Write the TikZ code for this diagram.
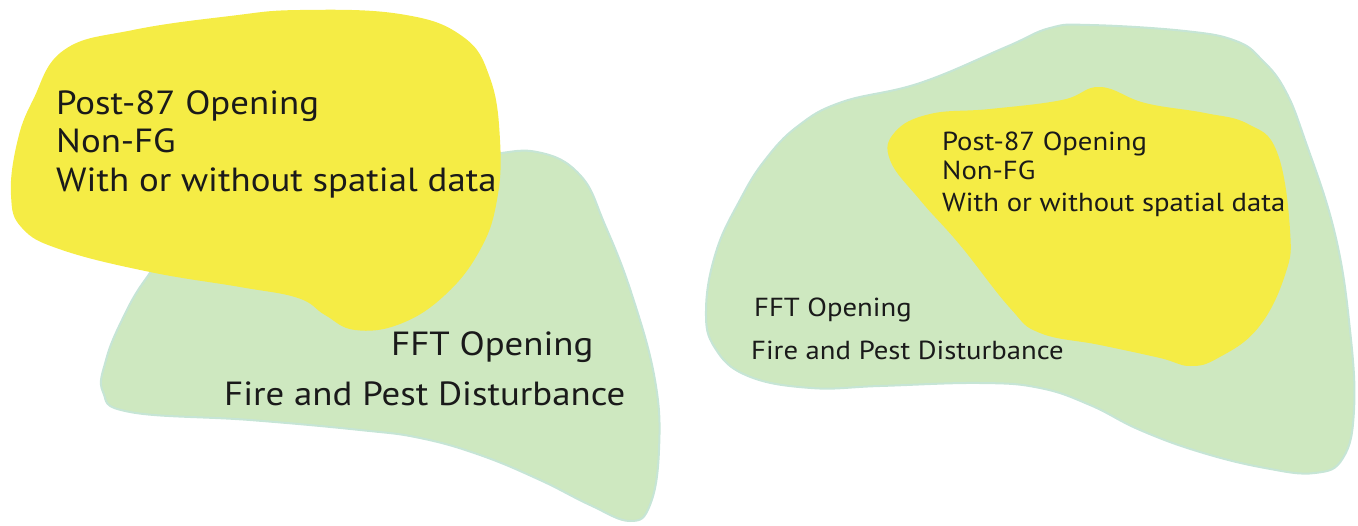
\documentclass[tikz,border=0pt]{standalone}
\usepackage{fontspec}
\setmainfont[FakeStretch=1.1]{PT Sans}
\definecolor{blobyellow}{HTML}{F5EC45}
\definecolor{blobgreen}{HTML}{CEE8C0}
\definecolor{blobedge}{HTML}{C6E5D6}
\definecolor{txt}{HTML}{1A1A1A}
\tikzset{
  greenblob/.style={fill=blobgreen, draw=blobedge, line width=2pt},
  yellowblob/.style={fill=blobyellow, draw=none},
  bigtxt/.style={anchor=base west, inner sep=0pt, text=txt, font=\fontsize{33.5}{40}\selectfont},
  smalltxt/.style={anchor=base west, inner sep=0pt, text=txt, font=\fontsize{26.1}{31}\selectfont},
}
\begin{document}
\begin{tikzpicture}[x=1pt,y=-1pt]
\useasboundingbox (0,0) rectangle (1358,525);
% ---- left group ----
\draw[greenblob] plot[smooth cycle, tension=0.7] coordinates {
 (480,155) (537,152) (580,175) (605,225) (632,295) (655,380) (659,450) (650,505) (630,521)
 (590,505) (540,480) (480,455) (420,438) (360,430) (250,420) (130,412) (103,392) (106,360)
 (122,320) (145,280) (180,240) (260,190) (380,160)};
\fill[yellowblob] plot[smooth cycle, tension=0.7] coordinates {
 (64,50) (133,30) (230,16) (300,10) (400,14) (462,36) (490,78) (500,140) (497,200)
 (480,250) (445,295) (400,324) (355,330) (325,315) (298,298) (240,287) (150,272)
 (62,250) (22,228) (11,195) (17,143) (33,100)};
\node[bigtxt] (l1) at (56,114) {Post-87 Opening};
\node[bigtxt] (l2) at (56,152) {Non-FG};
\node[bigtxt] (l3) at (56,191) {With or without spatial data};
\node[bigtxt] (l4) at (391,355) {FFT Opening};
\node[bigtxt] (l5) at (224,405) {Fire and Pest Disturbance};
% ---- right group ----
\draw[greenblob] plot[smooth cycle, tension=0.7] coordinates {
 (1090,25) (1185,31) (1236,41) (1262,60) (1285,90) (1305,140) (1335,234) (1350,330) (1354,410)
 (1343,458) (1315,473) (1265,468) (1200,452) (1140,430) (1090,405) (1040,388) (980,383)
 (880,386) (811,388) (748,376) (715,348) (706,310) (716,252) (740,200) (765,160)
 (798,126) (842,102) (920,83) (1006,47) (1050,28)};
\fill[yellowblob] plot[smooth cycle, tension=0.7] coordinates {
 (1100,87) (1145,103) (1205,113) (1248,124) (1277,152) (1290,230) (1285,275) (1258,328)
 (1218,358) (1190,366) (1160,358) (1100,345) (1040,333) (1010,308) (960,245) (920,200)
 (890,160) (895,132) (930,114) (990,109) (1062,100)};
\node[smalltxt] (r1) at (942,150) {Post-87 Opening};
\node[smalltxt] (r2) at (942,179) {Non-FG};
\node[smalltxt] (r3) at (942,211) {With or without spatial data};
\node[smalltxt] (r4) at (754,316) {FFT Opening};
\node[smalltxt] (r5) at (751,359) {Fire and Pest Disturbance};
\end{tikzpicture}
\end{document}
